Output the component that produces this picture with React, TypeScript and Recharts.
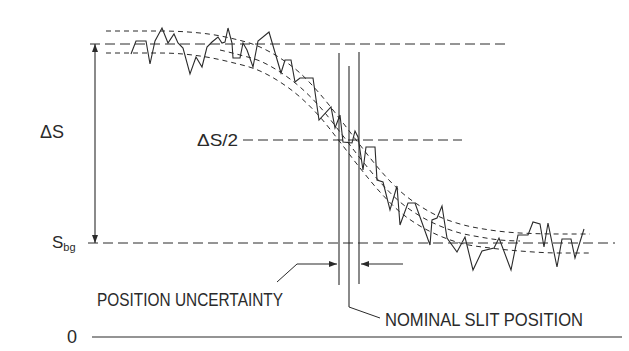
import React from 'react';
import { LineChart, Line, XAxis, YAxis, ReferenceLine, ReferenceDot } from 'recharts';

// measured scan across the edge (position, signal)
const scanPos = [131, 136, 146, 150, 155, 162, 168, 174, 178, 183, 190, 196, 202, 207, 212, 218, 222, 225, 228, 232, 233, 240, 243, 247, 253, 258, 269, 281, 285, 291, 295, 300, 313, 319, 331, 335, 340, 343, 352, 355, 358, 363, 366, 375, 377, 383, 390, 397, 400, 408, 415, 430, 432, 437, 442, 447, 457, 465, 473, 482, 494, 499, 511, 518, 528, 533, 540, 544, 548, 557, 562, 571, 575, 584];
const scanSignal = [28.3, 29.6, 29.6, 27.3, 29.6, 30.9, 29.4, 30.3, 29.4, 28.9, 26.3, 28.0, 27.0, 29.0, 29.5, 30.0, 29.4, 29.5, 30.9, 29.4, 27.9, 27.9, 29.4, 28.7, 27.0, 29.6, 30.5, 26.4, 27.7, 27.7, 25.5, 25.9, 25.9, 21.7, 23.0, 20.9, 22.2, 19.5, 19.4, 20.6, 20.0, 16.7, 19.0, 19.0, 15.7, 15.5, 12.7, 15.1, 11.2, 13.4, 13.4, 9.2, 11.7, 11.9, 13.1, 9.9, 8.5, 10.0, 6.7, 8.6, 8.9, 9.9, 6.7, 10.2, 10.2, 11.5, 11.3, 9.0, 11.4, 7.0, 9.8, 9.8, 7.9, 10.8];

// fitted edge and its noise band
const fitPos = [220, 240, 260, 280, 300, 320, 340, 360, 380, 400, 420, 440, 460, 480, 500, 520];
const fitSignal = [28.7, 28.2, 27.6, 26.5, 25.0, 23.0, 20.5, 17.9, 15.5, 13.5, 12.1, 11.1, 10.4, 10.0, 9.7, 9.6];
const bandPos = [106, 160, 200, 230, 260, 280, 300, 320, 340, 360, 380, 400, 420, 440, 460, 490, 520, 560, 590];
const upperBand = [30.6, 30.6, 30.4, 29.9, 29.0, 27.9, 26.4, 24.3, 21.8, 19.2, 16.7, 14.6, 13.1, 12.0, 11.3, 10.7, 10.4, 10.3, 10.3];
const lowerBand = [28.4, 28.4, 28.1, 27.5, 26.6, 25.5, 24.0, 22.0, 19.5, 16.9, 14.5, 12.5, 11.1, 10.1, 9.4, 8.9, 8.6, 8.4, 8.4];

const topLevel = 29.3;
const bgLevel = 9.4;
const halfLevel = 19.7;
const slitPos = 349;
const slitUncertainty = 10;

const scanData = scanPos.map((x, i) => ({ x, y: scanSignal[i] }));
const fitData = fitPos.map((x, i) => ({ x, y: fitSignal[i] }));
const upperData = bandPos.map((x, i) => ({ x, y: upperBand[i] }));
const lowerData = bandPos.map((x, i) => ({ x, y: lowerBand[i] }));

const INK = '#2a2a2a';
const FONT = '"Liberation Sans", Arial, sans-serif';

const head = (xa: number, ya: number, xb: number, yb: number) => {
  // arrowhead at (xb, yb) pointing away from (xa, ya)
  const len = Math.hypot(xb - xa, yb - ya) || 1;
  const ux = (xb - xa) / len;
  const uy = (yb - ya) / len;
  const L = 8, W = 3;
  const bx = xb - ux * L, by = yb - uy * L;
  return `${xb},${yb} ${bx - uy * W},${by + ux * W} ${bx + uy * W},${by - ux * W}`;
};

const arrow = (heads: 'end' | 'both') => (p: any) => {
  const { x1, y1, x2, y2 } = p;
  return <g>
      <line x1={x1} y1={y1} x2={x2} y2={y2} stroke={INK} strokeWidth={1.1} />
      <polygon points={head(x1, y1, x2, y2)} fill={INK} />
      {heads === 'both' && <polygon points={head(x2, y2, x1, y1)} fill={INK} />}
    </g>;
};

const label = (text: string, anchor: 'start' | 'middle' | 'end', size: number, length?: number) => (p: any) => <text x={p.cx} y={p.cy} textAnchor={anchor} dominantBaseline="central" fontFamily={FONT} fontSize={size} fill={INK} textLength={length} lengthAdjust={length ? 'spacingAndGlyphs' : undefined}>
    {text}
  </text>;

const sbgLabel = (p: any) => <text x={p.cx} y={p.cy} dominantBaseline="central" fontFamily={FONT} fontSize={17} fill={INK}>
    S<tspan fontSize={11} dy={5}>bg</tspan>
  </text>;

const App: React.FC = () => {
  return <div style={{ position: 'absolute', left: 0, top: 0, width: 629, height: 351, background: '#fff' }}>
      <LineChart width={629} height={351} margin={{ top: 0, right: 0, bottom: 0, left: 0 }}>
        <XAxis type="number" dataKey="x" domain={[0, 629]} allowDataOverflow hide />
        <YAxis type="number" domain={[-1.4, 33.7]} allowDataOverflow hide />

        <ReferenceLine segment={[{ x: 90, y: topLevel }, { x: 510, y: topLevel }]} stroke={INK} strokeDasharray="10 5" strokeWidth={1} ifOverflow="visible" />
        <ReferenceLine segment={[{ x: 88, y: bgLevel }, { x: 615, y: bgLevel }]} stroke={INK} strokeDasharray="10 5" strokeWidth={1} ifOverflow="visible" />
        <ReferenceLine segment={[{ x: 243, y: halfLevel }, { x: 462, y: halfLevel }]} stroke={INK} strokeDasharray="10 5" strokeWidth={1} ifOverflow="visible" />
        <ReferenceLine segment={[{ x: 92, y: 0 }, { x: 622, y: 0 }]} stroke={INK} strokeWidth={1.2} ifOverflow="visible" />

        <ReferenceLine segment={[{ x: slitPos - slitUncertainty, y: 28.4 }, { x: slitPos - slitUncertainty, y: 5.2 }]} stroke={INK} strokeWidth={1.1} ifOverflow="visible" />
        <ReferenceLine segment={[{ x: slitPos + slitUncertainty, y: 28.5 }, { x: slitPos + slitUncertainty, y: 5.3 }]} stroke={INK} strokeWidth={1.1} ifOverflow="visible" />
        <ReferenceLine segment={[{ x: slitPos, y: 27.1 }, { x: slitPos, y: 3.0 }]} stroke={INK} strokeWidth={1.1} ifOverflow="visible" />
        <ReferenceLine segment={[{ x: slitPos, y: 3.0 }, { x: 380, y: 1.9 }]} stroke={INK} strokeWidth={1} ifOverflow="visible" />

        <ReferenceLine segment={[{ x: 277, y: 5.5 }, { x: 297, y: 7.3 }]} stroke={INK} strokeWidth={1} ifOverflow="visible" />
        <ReferenceLine segment={[{ x: 297, y: 7.3 }, { x: slitPos - slitUncertainty - 2, y: 7.3 }]} shape={arrow('end')} ifOverflow="visible" />
        <ReferenceLine segment={[{ x: 403, y: 7.3 }, { x: slitPos + slitUncertainty + 2, y: 7.3 }]} shape={arrow('end')} ifOverflow="visible" />
        <ReferenceLine segment={[{ x: 95, y: topLevel }, { x: 95, y: bgLevel }]} shape={arrow('both')} ifOverflow="visible" />

        <Line data={upperData} dataKey="y" type="monotone" stroke={INK} strokeWidth={1} strokeDasharray="5 4" dot={false} activeDot={false} isAnimationActive={false} />
        <Line data={lowerData} dataKey="y" type="monotone" stroke={INK} strokeWidth={1} strokeDasharray="5 4" dot={false} activeDot={false} isAnimationActive={false} />
        <Line data={fitData} dataKey="y" type="monotone" stroke={INK} strokeWidth={1} strokeDasharray="5 4" dot={false} activeDot={false} isAnimationActive={false} />
        <Line data={scanData} dataKey="y" type="linear" stroke={INK} strokeWidth={1.1} dot={false} activeDot={false} isAnimationActive={false} />

        <ReferenceDot x={52} y={20.55} shape={label('ΔS', 'middle', 18)} ifOverflow="visible" />
        <ReferenceDot x={238} y={halfLevel} shape={label('ΔS/2', 'end', 17, 41)} ifOverflow="visible" />
        <ReferenceDot x={52} y={bgLevel + 0.1} shape={sbgLabel} ifOverflow="visible" />
        <ReferenceDot x={77} y={0} shape={label('0', 'end', 18)} ifOverflow="visible" />
        <ReferenceDot x={97} y={3.75} shape={label('POSITION UNCERTAINTY', 'start', 18, 186)} ifOverflow="visible" />
        <ReferenceDot x={385} y={1.7} shape={label('NOMINAL SLIT POSITION', 'start', 18, 198)} ifOverflow="visible" />
      </LineChart>
    </div>;
};

export default App;
